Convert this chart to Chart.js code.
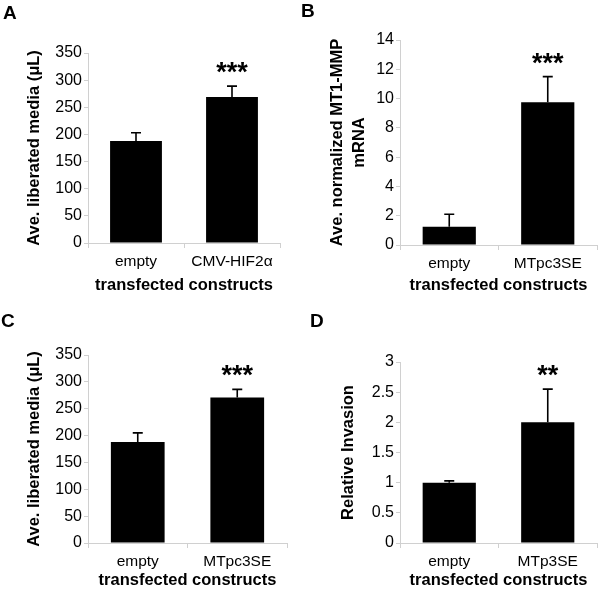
<!DOCTYPE html>
<html>
<head>
<meta charset="utf-8">
<script src="https://cdn.jsdelivr.net/npm/chart.js@4/dist/chart.umd.min.js"></script>
<style>
  body { margin: 0; background: #fff; }
  #wrap { position: relative; width: 600px; height: 590px; }
  #wrap canvas { position: absolute; }
</style>
</head>
<body>
<div id="wrap">
  <canvas id="cA" width="300" height="295" style="left:0;top:0"></canvas>
  <canvas id="cB" width="300" height="295" style="left:300px;top:0"></canvas>
  <canvas id="cC" width="300" height="295" style="left:0;top:295px"></canvas>
  <canvas id="cD" width="300" height="295" style="left:300px;top:295px"></canvas>
</div>
<script>
// panel A
const labelsA = ["empty", "CMV-HIF2α"];
const valuesA = [188, 269];
const errorsA = [15, 20];
const starsA = ["", "***"];

// panel B
const labelsB = ["empty", "MTpc3SE"];
const valuesB = [1.25, 9.75];
const errorsB = [0.85, 1.75];
const starsB = ["", "***"];

// panel C
const labelsC = ["empty", "MTpc3SE"];
const valuesC = [188, 271];
const errorsC = [17, 15];
const starsC = ["", "***"];

// panel D
const labelsD = ["empty", "MTp3SE"];
const valuesD = [1.0, 2.0];
const errorsD = [0.03, 0.55];
const starsD = ["", "**"];

const FONT = "'Liberation Sans', Arial, sans-serif";
const AXIS = "#d0d0d0";

// error bars (upper only), significance stars and the panel letter
const extras = {
  id: "extras",
  afterDatasetsDraw(chart, args, opts) {
    const ctx = chart.ctx;
    const meta = chart.getDatasetMeta(0);
    const y = chart.scales.y;
    ctx.save();
    ctx.strokeStyle = "#000";
    ctx.lineWidth = 1.6;
    meta.data.forEach((bar, i) => {
      const v = chart.data.datasets[0].data[i];
      const top = y.getPixelForValue(v + opts.errors[i]);
      ctx.beginPath();
      ctx.moveTo(bar.x, bar.y);
      ctx.lineTo(bar.x, top);
      ctx.moveTo(bar.x - 5, top);
      ctx.lineTo(bar.x + 5, top);
      ctx.stroke();
      if (opts.stars[i]) {
        ctx.fillStyle = "#000";
        ctx.font = "bold 27px " + FONT;
        ctx.textAlign = "center";
        ctx.textBaseline = "alphabetic";
        ctx.fillText(opts.stars[i], bar.x, top - 5);
      }
    });
    ctx.fillStyle = "#000";
    ctx.font = "bold 19px " + FONT;
    ctx.textAlign = "left";
    ctx.textBaseline = "top";
    ctx.fillText(opts.letter, opts.lx, opts.ly);
    ctx.restore();
  }
};

function panel(id, labels, values, errors, stars, p) {
  return new Chart(document.getElementById(id), {
    type: "bar",
    plugins: [extras],
    data: {
      labels: labels,
      datasets: [{
        data: values,
        backgroundColor: "#000",
        barPercentage: 0.54,
        categoryPercentage: 1
      }]
    },
    options: {
      responsive: false,
      animation: false,
      layout: { padding: { left: p.padLeft, top: p.top, right: 300 - p.right, bottom: 0 } },
      plugins: {
        legend: { display: false },
        tooltip: { enabled: false },
        extras: { errors: errors, stars: stars, letter: p.letter, lx: p.lx, ly: p.ly }
      },
      scales: {
        x: {
          afterFit: s => { s.height = 295 - p.bottom; },
          border: { color: AXIS, width: 1 },
          grid: { drawOnChartArea: false, color: AXIS, tickLength: 5, offset: true },
          ticks: { color: "#000", font: { family: FONT, size: 15.5 }, padding: 4 },
          title: {
            display: true, text: "transfected constructs", color: "#000",
            font: { family: FONT, size: 16.5, weight: "bold" }, padding: { top: 0, bottom: 0 }
          }
        },
        y: {
          min: p.min, max: p.max,
          afterFit: s => { s.width = p.left - p.padLeft; },
          border: { color: AXIS, width: 1 },
          grid: { drawOnChartArea: false, color: AXIS, tickLength: 4 },
          ticks: {
            color: "#000", font: { family: FONT, size: 16 }, padding: 2, stepSize: p.step,
            callback: v => String(v)
          },
          title: {
            display: true, text: p.ytitle, color: "#000",
            font: { family: FONT, size: 16.5, weight: "bold", lineHeight: 1.3 }, padding: { top: 0, bottom: 0 }
          }
        }
      }
    }
  });
}

panel("cA", labelsA, valuesA, errorsA, starsA, {
  letter: "A", lx: 3, ly: 4, padLeft: 24, left: 88, right: 280, top: 53, bottom: 243,
  min: 0, max: 350, step: 50, ytitle: "Ave. liberated media (μL)"
});
panel("cB", labelsB, valuesB, errorsB, starsB, {
  letter: "B", lx: 1, ly: 2, padLeft: 27, left: 100, right: 297, top: 40, bottom: 245,
  min: 0, max: 14, step: 2, ytitle: ["Ave. normalized MT1-MMP", "mRNA"]
});
panel("cC", labelsC, valuesC, errorsC, starsC, {
  letter: "C", lx: 1, ly: 17, padLeft: 24, left: 88, right: 287, top: 60, bottom: 248,
  min: 0, max: 350, step: 50, ytitle: "Ave. liberated media (μL)"
});
panel("cD", labelsD, valuesD, errorsD, starsD, {
  letter: "D", lx: 10, ly: 17, padLeft: 38, left: 100, right: 297, top: 67, bottom: 248,
  min: 0, max: 3, step: 0.5, ytitle: "Relative Invasion"
});
</script>
</body>
</html>
